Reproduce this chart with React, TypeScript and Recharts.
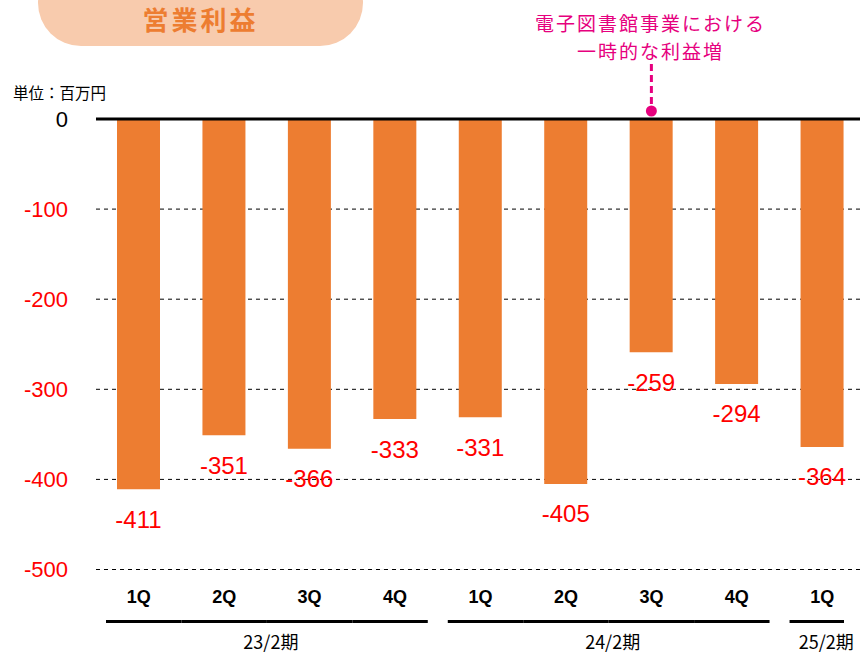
import React from "react";
import {
  BarChart,
  Bar,
  XAxis,
  YAxis,
  CartesianGrid,
  ReferenceLine,
  ReferenceDot,
  LabelList,
} from "recharts";

const quarters = ["1Q", "2Q", "3Q", "4Q", "1Q", "2Q", "3Q", "4Q", "1Q"];
const periods = ["23/2期", "23/2期", "23/2期", "23/2期", "24/2期", "24/2期", "24/2期", "24/2期", "25/2期"];
const profit = [-411, -351, -366, -333, -331, -405, -259, -294, -364];
const yTicks = [0, -100, -200, -300, -400, -500];

const data = quarters.map((q, i) => ({
  key: `${periods[i]}-${q}`,
  quarter: q,
  period: periods[i],
  value: profit[i],
}));

const CHART_W = 870;
const CHART_H = 653;
const Y_AXIS_W = 96;
const MARGIN_R = 5;
const BAND = (CHART_W - Y_AXIS_W - MARGIN_R) / data.length;
const PINK = "#E6007E";
const ORANGE = "#ED7D31";
const JP = "'Noto Sans CJK JP', sans-serif";

const YTick = (props: any) => {
  const { y, payload } = props;
  return (
    <text
      x={68}
      y={y}
      textAnchor="end"
      dominantBaseline="central"
      fontSize={22}
      fill={payload.value === 0 ? "#000" : "#FF0000"}
    >
      {payload.value}
    </text>
  );
};

const XTick = (props: any) => {
  const { x, y, index } = props;
  const d = data[index];
  const first = index === 0 || data[index - 1].period !== d.period;
  const last = index === data.length - 1 || data[index + 1].period !== d.period;
  const x1 = x - BAND / 2 + (first ? 10 : 0);
  const x2 = x + BAND / 2 - (last ? (index === data.length - 1 ? 21 : 10) : 0);
  let groupLabel = null;
  if (first) {
    const n = data.filter((r) => r.period === d.period).length;
    groupLabel = (
      <text
        x={x + ((n - 1) * BAND) / 2 + 4}
        y={y + 71}
        textAnchor="middle"
        dominantBaseline="central"
        fontSize={18}
        fontFamily={JP}
        fill="#000"
      >
        {d.period}
      </text>
    );
  }
  return (
    <g>
      <text
        x={x}
        y={y + 27}
        textAnchor="middle"
        dominantBaseline="central"
        fontSize={18}
        fontWeight="bold"
        fill="#000"
      >
        {d.quarter}
      </text>
      <line x1={x1} x2={x2} y1={y + 52} y2={y + 52} stroke="#000" strokeWidth={3} />
      {groupLabel}
    </g>
  );
};

const ValueLabel = (props: any) => {
  const { x, y, width, height, value } = props;
  const bottom = Math.max(y, y + height);
  return (
    <text
      x={x + width / 2}
      y={bottom + 30}
      textAnchor="middle"
      dominantBaseline="central"
      fontSize={24}
      fill="#FF0000"
    >
      {value}
    </text>
  );
};

const Annotation = (props: any) => {
  const { cx, cy } = props;
  const noteStyle = {
    textAnchor: "middle" as const,
    dominantBaseline: "central" as const,
    fontSize: 19,
    letterSpacing: 2,
    fontFamily: JP,
    fill: PINK,
  };
  return (
    <g>
      <text x={cx - 1} y={cy - 97} {...noteStyle}>
        電子図書館事業における
      </text>
      <text x={cx - 1} y={cy - 69} {...noteStyle}>
        一時的な利益増
      </text>
      <line
        x1={cx}
        x2={cx}
        y1={cy - 55}
        y2={cy - 14}
        stroke={PINK}
        strokeWidth={3}
        strokeDasharray="7 4"
      />
      <circle cx={cx} cy={cy - 8} r={5.5} fill={PINK} />
    </g>
  );
};

export default function App() {
  return (
    <div
      style={{
        position: "absolute",
        left: 0,
        top: 0,
        width: 860,
        height: 653,
        overflow: "hidden",
        background: "#fff",
        fontFamily: "'Liberation Sans', Arial, sans-serif",
      }}
    >
      <div
        style={{
          position: "absolute",
          left: 38,
          top: -40,
          width: 325,
          height: 86,
          borderRadius: 43,
          background: "#F8CBAD",
        }}
      />
      <div
        style={{
          position: "absolute",
          left: 38,
          top: 0,
          width: 325,
          height: 38,
          lineHeight: "38px",
          textAlign: "center",
          fontFamily: JP,
          fontWeight: "bold",
          fontSize: 26,
          letterSpacing: 3,
          color: ORANGE,
        }}
      >
        営業利益
      </div>
      <div
        style={{
          position: "absolute",
          left: 13,
          top: 82,
          fontFamily: JP,
          fontSize: 15.5,
          lineHeight: "20px",
          color: "#000",
        }}
      >
        単位：百万円
      </div>
      <div style={{ position: "absolute", left: 0, top: 0 }}>
        <BarChart
          width={CHART_W}
          height={CHART_H}
          data={data}
          margin={{ top: 119, right: MARGIN_R, bottom: 0, left: 0 }}
        >
          <CartesianGrid
            horizontal
            vertical={false}
            stroke="#000"
            strokeDasharray="4 4"
          />
          <XAxis
            dataKey="key"
            axisLine={false}
            tickLine={false}
            tickSize={0}
            tickMargin={0}
            height={83.5}
            interval={0}
            tick={<XTick />}
          />
          <YAxis
            domain={[-500, 0]}
            ticks={yTicks}
            axisLine={false}
            tickLine={false}
            width={Y_AXIS_W}
            tick={<YTick />}
            interval={0}
          />
          <Bar dataKey="value" fill={ORANGE} barSize={43} isAnimationActive={false}>
            <LabelList dataKey="value" content={<ValueLabel />} />
          </Bar>
          <ReferenceLine y={0} stroke="#000" strokeWidth={3} />
          <ReferenceDot
            x={data[6].key}
            y={0}
            ifOverflow="visible"
            shape={(p: any) => <Annotation {...p} />}
          />
        </BarChart>
      </div>
    </div>
  );
}
